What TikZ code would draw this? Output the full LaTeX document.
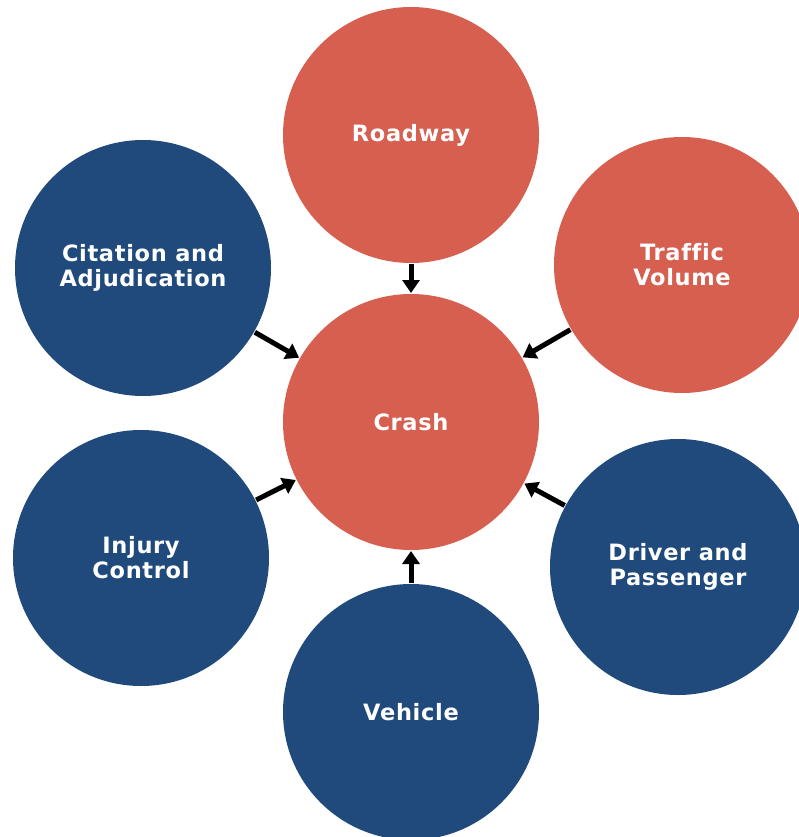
\documentclass[tikz,border=0pt]{standalone}
\usepackage{fontspec}
\setmainfont{DejaVu Sans}
\newfontfamily\labelfont[LetterSpace=3,Ligatures=NoCommon]{DejaVu Sans}
\usepackage{tikz}
\usetikzlibrary{positioning,arrows.meta}
\definecolor{crashred}{HTML}{D65F50}
\definecolor{factorblue}{HTML}{204A7B}
\tikzset{
  factor/.style={circle, fill=#1, minimum size=256pt, inner sep=0pt, outer sep=1pt,
    text=white, align=center, font=\labelfont\bfseries\fontsize{22.5}{25}\selectfont},
  link/.style={-{Triangle[length=13pt,width=17pt]}, line width=5pt, black}
}

\begin{document}
\begin{tikzpicture}[x=1pt,y=-1pt]
\useasboundingbox (0,0) rectangle (799,837);
\node [factor=crashred] (R) at (411,135) {Roadway};
\node [factor=crashred] (T) at (682,265) {Traffic\\Volume};
\node [factor=crashred] (C) at (411,422) {Crash};
\node [factor=factorblue] (A) at (143,268) {Citation and\\Adjudication};
\node [factor=factorblue] (I) at (141,558) {Injury\\Control};
\node [factor=factorblue] (D) at (678,567) {Driver and\\Passenger};
\node [factor=factorblue] (V) at (411,712) {Vehicle};
\draw [link] (R) -- (C);
\draw [link] (T) -- (C);
\draw [link] (A) -- (C);
\draw [link] (I) -- (C);
\draw [link] (D) -- (C);
\draw [link] (V) -- (C);
\end{tikzpicture}
\end{document}
